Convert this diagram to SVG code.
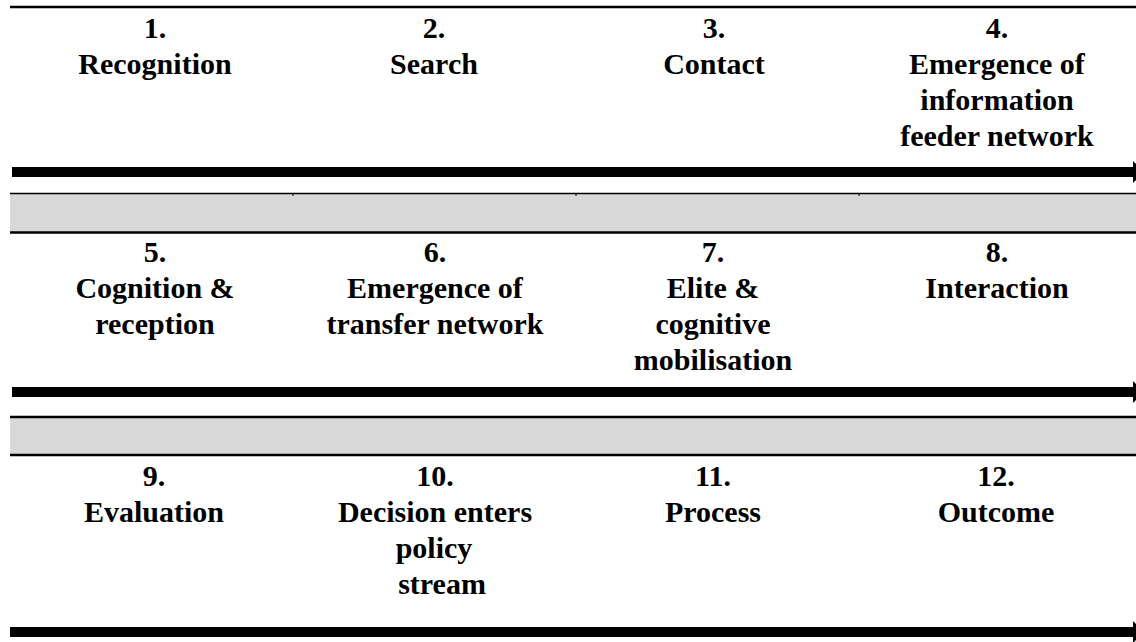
<svg xmlns="http://www.w3.org/2000/svg" width="1136" height="642" viewBox="0 0 1136 642">
<style>
text{font-family:"Liberation Serif","Times New Roman",serif;font-weight:bold;font-size:30px;fill:#000;text-anchor:middle}
.band{fill:#d8d8d8}
.arrow{stroke:#000;stroke-width:10;fill:none}
</style>
<rect width="1136" height="642" fill="#fff"/>
<g id="bands">
<line x1="10" y1="7" x2="1136" y2="7" stroke="#000" stroke-width="2.5"/>
<rect class="band" x="10" y="193" width="1126" height="39"/>
<line x1="10" y1="193.5" x2="1136" y2="193.5" stroke="#000" stroke-width="1.5"/>
<line x1="10" y1="232.5" x2="1136" y2="232.5" stroke="#000" stroke-width="2.5"/>
<rect x="292.5" y="194" width="1" height="2" fill="#000"/>
<rect x="575.5" y="194" width="1" height="2" fill="#000"/>
<rect x="858.5" y="194" width="1" height="2" fill="#000"/>
<rect class="band" x="10" y="417" width="1126" height="38"/>
<line x1="10" y1="417" x2="1136" y2="417" stroke="#000" stroke-width="2.5"/>
<line x1="10" y1="455" x2="1136" y2="455" stroke="#000" stroke-width="2.5"/>
</g>
<g id="connectors">
<line class="arrow" x1="12" y1="172" x2="1134" y2="172"/>
<polygon points="1133,161 1144,172 1133,183" fill="#000"/>
<line class="arrow" x1="12" y1="392" x2="1134" y2="392"/>
<polygon points="1133,381 1144,392 1133,403" fill="#000"/>
<line class="arrow" x1="10" y1="632" x2="1134" y2="632"/>
<polygon points="1133,621 1144,632 1133,643" fill="#000"/>
</g>
<g id="n1"><text x="155" y="38">1.</text><text x="155" y="74">Recognition</text></g>
<g id="n2"><text x="434" y="38">2.</text><text x="434" y="74">Search</text></g>
<g id="n3"><text x="714" y="38">3.</text><text x="714" y="74">Contact</text></g>
<g id="n4"><text x="997" y="38">4.</text><text x="997" y="74">Emergence of</text><text x="997" y="110">information</text><text x="997" y="146">feeder network</text></g>
<g id="n5"><text x="155" y="262">5.</text><text x="155" y="298">Cognition &amp;</text><text x="155" y="334">reception</text></g>
<g id="n6"><text x="435" y="262">6.</text><text x="435" y="298">Emergence of</text><text x="435" y="334">transfer network</text></g>
<g id="n7"><text x="713" y="262">7.</text><text x="713" y="298">Elite &amp;</text><text x="713" y="334">cognitive</text><text x="713" y="370">mobilisation</text></g>
<g id="n8"><text x="997" y="262">8.</text><text x="997" y="298">Interaction</text></g>
<g id="n9"><text x="154" y="486">9.</text><text x="154" y="522">Evaluation</text></g>
<g id="n10"><text x="435" y="486">10.</text><text x="435" y="522">Decision enters</text><text x="434" y="558">policy</text><text x="442" y="594">stream</text></g>
<g id="n11"><text x="713" y="486">11.</text><text x="713" y="522">Process</text></g>
<g id="n12"><text x="996" y="486">12.</text><text x="996" y="522">Outcome</text></g>
</svg>
